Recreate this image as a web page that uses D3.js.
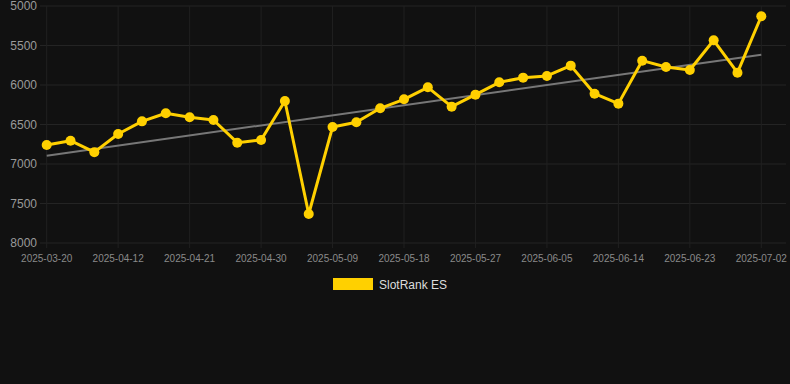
<!DOCTYPE html>
<html>
<head>
<meta charset="utf-8">
<script src="https://cdn.jsdelivr.net/npm/d3@7"></script>
<style>
  body { margin: 0; background: #111111; }
  svg { display: block; }
</style>
</head>
<body>
<script>
// dates of the points (first point stands alone, then every 3 days)
var dates = ["2025-03-20", "2025-04-06", "2025-04-09", "2025-04-12", "2025-04-15", "2025-04-18",
  "2025-04-21", "2025-04-24", "2025-04-27", "2025-04-30", "2025-05-03", "2025-05-06",
  "2025-05-09", "2025-05-12", "2025-05-15", "2025-05-18", "2025-05-21", "2025-05-24",
  "2025-05-27", "2025-05-30", "2025-06-02", "2025-06-05", "2025-06-08", "2025-06-11",
  "2025-06-14", "2025-06-17", "2025-06-20", "2025-06-23", "2025-06-26", "2025-06-29",
  "2025-07-02"];

// rank values (lower is better, axis is reversed)
var ranks = [6760, 6705, 6850, 6620, 6460, 6358, 6409, 6443, 6730, 6696,
  6203, 7633, 6532, 6472, 6295, 6181, 6029, 6274, 6122, 5966,
  5907, 5886, 5755, 6110, 6236, 5692, 5772, 5810, 5434, 5844, 5130];

// trend line ends
var trend = [6895, 5616];

var yTicks = [5000, 5500, 6000, 6500, 7000, 7500, 8000];
var seriesName = "SlotRank ES";

var w_svg = 790;
var h_svg = 384;

var svg = d3.select("body")
  .append("svg")
  .attr("width", w_svg)
  .attr("height", h_svg);

var xScale = d3.scalePoint().domain(dates).range([46.7, 761.3]);
var yScale = d3.scaleLinear().domain([5000, 8000]).range([6, 243]);

// horizontal grid
svg.append("g")
  .selectAll("line")
  .data(yTicks)
  .enter()
  .append("line")
  .attr("x1", 40)
  .attr("x2", 786)
  .attr("y1", function(d) { return yScale(d); })
  .attr("y2", function(d) { return yScale(d); })
  .attr("stroke", "#242424")
  .attr("stroke-width", 1);

// x ticks every third date
var xTicks = dates.filter(function(d, i) { return i % 3 == 0; });

svg.append("g")
  .selectAll("line")
  .data(xTicks)
  .enter()
  .append("line")
  .attr("x1", function(d) { return xScale(d); })
  .attr("x2", function(d) { return xScale(d); })
  .attr("y1", 6)
  .attr("y2", 248)
  .attr("stroke", "#202020")
  .attr("stroke-width", 1);

// y labels
svg.append("g")
  .selectAll("text")
  .data(yTicks)
  .enter()
  .append("text")
  .attr("x", 37)
  .attr("y", function(d) { return yScale(d) + 4; })
  .attr("text-anchor", "end")
  .attr("fill", "#9a9a9a")
  .style("font-family", "Arial, 'Liberation Sans', sans-serif")
  .style("font-size", "12px")
  .text(function(d) { return d; });

// x labels
svg.append("g")
  .selectAll("text")
  .data(xTicks)
  .enter()
  .append("text")
  .attr("x", function(d) { return xScale(d); })
  .attr("y", 262)
  .attr("text-anchor", "middle")
  .attr("fill", "#8a8a8a")
  .style("font-family", "Arial, 'Liberation Sans', sans-serif")
  .style("font-size", "10px")
  .text(function(d) { return d; });

// trend line
svg.append("line")
  .attr("x1", xScale(dates[0]))
  .attr("x2", xScale(dates[dates.length - 1]))
  .attr("y1", yScale(trend[0]))
  .attr("y2", yScale(trend[1]))
  .attr("stroke", "#777777")
  .attr("stroke-width", 2);

// series line
var line = d3.line()
  .x(function(d, i) { return xScale(dates[i]); })
  .y(function(d) { return yScale(d); });

svg.append("path")
  .datum(ranks)
  .attr("d", line)
  .attr("fill", "none")
  .attr("stroke", "#FFD000")
  .attr("stroke-width", 3)
  .attr("stroke-linejoin", "round");

svg.selectAll("circle.pt")
  .data(ranks)
  .enter()
  .append("circle")
  .attr("class", "pt")
  .attr("cx", function(d, i) { return xScale(dates[i]); })
  .attr("cy", function(d) { return yScale(d); })
  .attr("r", 5)
  .attr("fill", "#FFD000");

// legend
svg.append("rect")
  .attr("x", 333)
  .attr("y", 278)
  .attr("width", 40)
  .attr("height", 12)
  .attr("fill", "#FFD000");

svg.append("text")
  .attr("x", 379)
  .attr("y", 288.5)
  .attr("fill", "#dddddd")
  .style("font-family", "Arial, 'Liberation Sans', sans-serif")
  .style("font-size", "12px")
  .text(seriesName);
</script>
</body>
</html>
